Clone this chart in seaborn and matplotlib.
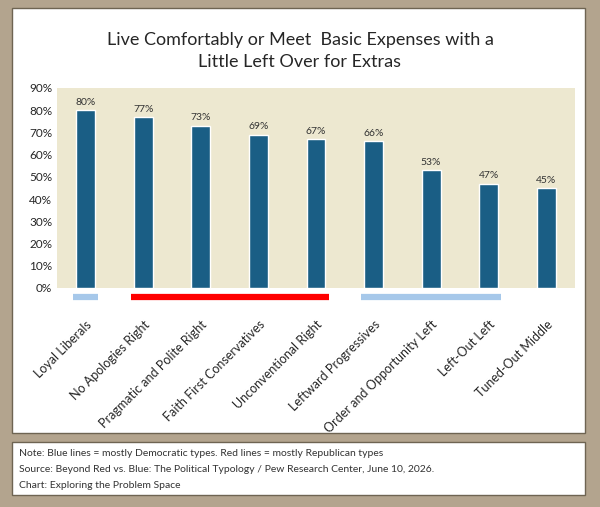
import numpy as np
import pandas as pd
import seaborn as sns
import matplotlib.pyplot as plt
from matplotlib.patches import Rectangle

categories = ["Loyal Liberals", "No Apologies Right", "Pragmatic and Polite Right",
              "Faith First Conservatives", "Unconventional Right", "Leftward Progressives",
              "Order and Opportunity Left", "Left-Out Left", "Tuned-Out Middle"]
values = [80, 77, 73, 69, 67, 66, 53, 47, 45]
yticks = list(range(0, 100, 10))
# party groupings shown as lines under the axis: (first idx, last idx, colour)
groups = [(0, 0, "#A6C8EA"), (1, 4, "#FF0000"), (5, 7, "#A6C8EA")]

df = pd.DataFrame({"type": categories, "pct": values})

sns.set_style("white")
plt.rcParams["font.family"] = ["Lato", "DejaVu Sans"]

fig = plt.figure(figsize=(6, 5.07), dpi=100)
fig.patch.set_facecolor("#B3A48E")
fig.add_artist(Rectangle((12/600, 1-433/507), 573/600, 425/507, transform=fig.transFigure,
                         facecolor="white", edgecolor="#6E6452", lw=1, zorder=-5))
fig.add_artist(Rectangle((12/600, 1-495/507), 573/600, 53/507, transform=fig.transFigure,
                         facecolor="white", edgecolor="#6E6452", lw=1, zorder=-5))

ax = fig.add_axes([57/600, 1-288/507, 518/600, 200/507])
ax.set_facecolor("#EDE8D0")
sns.barplot(data=df, x="type", y="pct", color="#1A5E85", width=0.33, saturation=1, ax=ax)
for i, v in enumerate(values):
    ax.text(i, v + 1.5, f"{v}%", ha="center", va="bottom", fontsize=7.5, color="#333333")

ax.set_ylim(0, 90)
ax.set_xlim(-0.5, len(categories) - 0.5)
ax.set_yticks(yticks)
ax.set_yticklabels([f"{t}%" for t in yticks], fontsize=8.5)
ax.set_xticks(range(len(categories)))
ax.set_xticklabels(categories, rotation=45, ha="right", rotation_mode="anchor", fontsize=9)
ax.tick_params(axis="x", pad=22, length=0)
ax.tick_params(axis="y", length=0)
ax.set_xlabel("")
ax.set_ylabel("")
for s in ax.spines.values():
    s.set_visible(False)

for a, b, c in groups:
    ax.plot([a - 0.22, b + 0.22], [-4, -4], color=c, lw=4.5, solid_capstyle="butt", clip_on=False)

fig.text(0.5, 1-40/507, "Live Comfortably or Meet  Basic Expenses with a", ha="center",
         va="center", fontsize=13)
fig.text(0.5, 1-62/507, "Little Left Over for Extras", ha="center", va="center", fontsize=13)

notes = ["Note: Blue lines = mostly Democratic types. Red lines = mostly Republican types",
         "Source: Beyond Red vs. Blue: The Political Typology / Pew Research Center, June 10, 2026.",
         "Chart: Exploring the Problem Space"]
for k, t in enumerate(notes):
    fig.text(19/600, 1-(454 + k*15.5)/507, t, ha="left", va="center", fontsize=7.5, color="#333333")

fig.savefig("out.png", dpi=100, facecolor=fig.get_facecolor())
